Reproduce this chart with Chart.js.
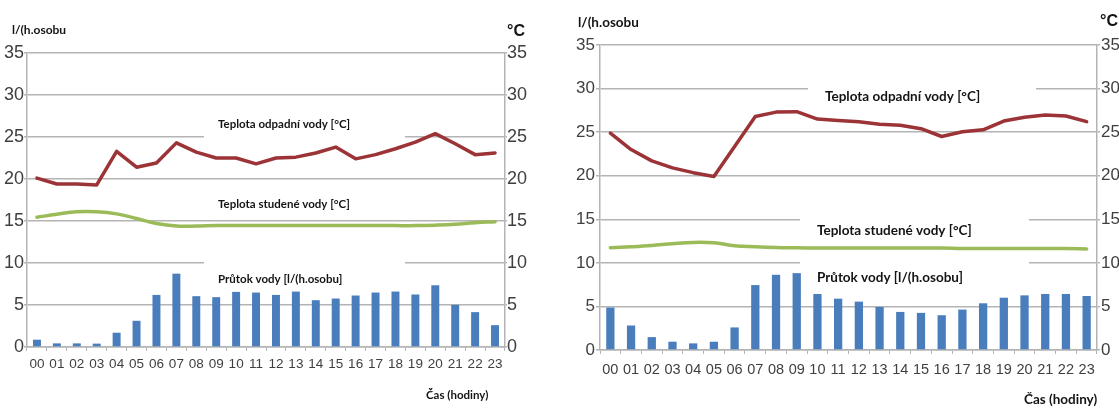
<!DOCTYPE html>
<html>
<head>
<meta charset="utf-8">
<script src="https://cdn.jsdelivr.net/npm/chart.js@4.4.1/dist/chart.umd.min.js"></script>
<style>
  html, body { margin: 0; padding: 0; background: #fff; width: 1119px; height: 414px; overflow: hidden; }
  .panel { position: absolute; top: 0; height: 414px; }
  #panelA { left: 0; width: 556px; }
  #panelB { left: 556px; width: 563px; }
</style>
</head>
<body>
<div class="panel" id="panelA"><canvas id="chartA" width="556" height="414"></canvas></div>
<div class="panel" id="panelB"><canvas id="chartB" width="563" height="414"></canvas></div>
<script>
// Hour of day
const hours = ['00','01','02','03','04','05','06','07','08','09','10','11',
               '12','13','14','15','16','17','18','19','20','21','22','23'];

// Left panel: flow [l/(h.person)], waste water and cold water temperature [°C]
const flowA  = [0.87, 0.43, 0.43, 0.40, 1.70, 3.12, 6.20, 8.73, 6.05, 5.93, 6.56, 6.48,
                6.20, 6.60, 5.57, 5.77, 6.13, 6.48, 6.60, 6.25, 7.35, 5.02, 4.15, 2.60];
const wasteA = [20.1, 19.4, 19.4, 19.3, 23.3, 21.4, 21.9, 24.3, 23.2, 22.5, 22.5, 21.8,
                22.5, 22.6, 23.1, 23.8, 22.4, 22.9, 23.6, 24.4, 25.4, 24.2, 22.9, 23.1];
const coldA  = [15.45, 15.8, 16.1, 16.1, 15.85, 15.3, 14.7, 14.4, 14.4, 14.45, 14.45, 14.45,
                14.45, 14.45, 14.45, 14.45, 14.45, 14.45, 14.45, 14.45, 14.5, 14.6, 14.8, 14.9];

// Right panel
const flowB  = [4.87, 2.81, 1.48, 0.95, 0.76, 0.95, 2.59, 7.45, 8.63, 8.82, 6.43, 5.89,
                5.55, 4.94, 4.37, 4.26, 3.99, 4.64, 5.36, 6.00, 6.27, 6.43, 6.43, 6.20];
const wasteB = [24.9, 23.0, 21.7, 20.9, 20.35, 19.9, 23.35, 26.8, 27.3, 27.35, 26.5, 26.35,
                26.2, 25.9, 25.8, 25.4, 24.5, 25.05, 25.27, 26.27, 26.7, 26.96, 26.85, 26.2];
const coldB  = [11.73, 11.85, 12.0, 12.2, 12.35, 12.3, 11.96, 11.85, 11.77, 11.73, 11.7, 11.7,
                11.7, 11.7, 11.7, 11.7, 11.7, 11.65, 11.65, 11.65, 11.65, 11.65, 11.65, 11.6];

// Shared axis range (both axes)
const axisMin = 0, axisMax = 35, axisStep = 5;

// Texts
const unitFlow   = 'l/(h.osobu';
const unitTemp   = '°C';
const timeTitle  = 'Čas (hodiny)';
const labelWaste = 'Teplota odpadní vody [°C]';
const labelCold  = 'Teplota studené vody [°C]';
const labelFlow  = 'Průtok vody [l/(h.osobu]';

const GRID = '#b4b4b4';
const TICK_TEXT = '#3f3f3f';
const BAR_BLUE = '#4a7dbb';
const WASTE_RED = '#9c3337';
const COLD_GREEN = '#9bbb59';
const LABEL_FONT = 'Lato, "Open Sans", sans-serif';
const TICK_FONT = '"Liberation Sans", Arial, sans-serif';

// Free texts and white label panels drawn under the data series
const panelText = {
  id: 'panelText',
  beforeDatasetsDraw(chart, args, opts) {
    const ctx = chart.ctx;
    ctx.save();
    ctx.fillStyle = '#ffffff';
    (opts.boxes || []).forEach(b => ctx.fillRect(b.x, b.y, b.w, b.h));
    (opts.texts || []).forEach(t => {
      ctx.font = (t.weight || 'bold') + ' ' + t.size + 'px ' + (t.family || LABEL_FONT);
      ctx.fillStyle = t.color || '#141414';
      ctx.textAlign = 'left';
      ctx.textBaseline = 'middle';
      ctx.fillText(t.text, t.x, t.y);
    });
    ctx.restore();
  }
};

function fixedSize(prop, value) {
  return function (scale) { scale[prop] = value; };
}

function buildChart(canvasId, series, lay) {
  return new Chart(document.getElementById(canvasId), {
    type: 'bar',
    data: {
      labels: hours,
      datasets: [
        { type: 'line', label: labelWaste, data: series.waste, yAxisID: 'yT',
          borderColor: WASTE_RED, borderWidth: 3.5, pointRadius: 0, tension: 0, order: 0,
          borderJoinStyle: 'round', borderCapStyle: 'round' },
        { type: 'line', label: labelCold, data: series.cold, yAxisID: 'yT',
          borderColor: COLD_GREEN, borderWidth: 3.5, pointRadius: 0, tension: 0.4, order: 0,
          borderCapStyle: 'round' },
        { type: 'bar', label: labelFlow, data: series.flow, yAxisID: 'yF',
          backgroundColor: BAR_BLUE, barPercentage: 0.4, categoryPercentage: 1, order: 1 }
      ]
    },
    options: {
      responsive: false,
      animation: false,
      devicePixelRatio: 1,
      layout: { padding: { top: lay.top, left: 0, right: 0, bottom: 0 } },
      plugins: {
        legend: { display: false },
        tooltip: { enabled: false },
        panelText: { boxes: lay.boxes, texts: lay.texts }
      },
      scales: {
        x: {
          afterFit: fixedSize('height', lay.xHeight),
          grid: { offset: true, drawOnChartArea: false, drawTicks: true, tickLength: 4, color: GRID },
          border: { display: true, color: GRID, width: 1.5 },
          ticks: { color: TICK_TEXT, padding: lay.xPad, maxRotation: 0, autoSkip: false,
                   font: { family: TICK_FONT, size: lay.xFont } }
        },
        yF: {
          position: 'left', min: axisMin, max: axisMax,
          afterFit: fixedSize('width', lay.leftW),
          grid: { color: GRID, lineWidth: 1.5, tickLength: lay.leftTick },
          border: { display: true, color: GRID, width: 1.5 },
          ticks: { stepSize: axisStep, color: TICK_TEXT, padding: lay.leftPad,
                   font: { family: TICK_FONT, size: lay.yFont } }
        },
        yT: {
          position: 'right', min: axisMin, max: axisMax,
          afterFit: fixedSize('width', lay.rightW),
          grid: { drawOnChartArea: false, color: GRID, lineWidth: 1.5, tickLength: lay.rightTick },
          border: { display: true, color: GRID, width: 1.5 },
          ticks: { stepSize: axisStep, color: TICK_TEXT, padding: lay.rightPad,
                   font: { family: TICK_FONT, size: lay.yFont } }
        }
      }
    },
    plugins: [panelText]
  });
}

// Left panel
buildChart('chartA', { flow: flowA, waste: wasteA, cold: coldA }, {
  top: 53, xHeight: 67, leftW: 27, rightW: 51,
  xFont: 13.5, xPad: 5, yFont: 18,
  leftTick: 3, leftPad: 0, rightTick: 2, rightPad: 0,
  boxes: [
    { x: 204, y: 114, w: 201, h: 27 },
    { x: 204, y: 194, w: 201, h: 20 },
    { x: 204, y: 255, w: 201, h: 35 }
  ],
  texts: [
    { text: labelWaste, x: 218, y: 124, size: 11.5 },
    { text: labelCold,  x: 218, y: 204, size: 11.5 },
    { text: labelFlow,  x: 218, y: 279, size: 11.5 },
    { text: unitFlow,   x: 12,  y: 30,  size: 12 },
    { text: unitTemp,   x: 507, y: 32,  size: 16, family: TICK_FONT },
    { text: timeTitle,  x: 426, y: 395, size: 11.5 }
  ]
});

// Right panel
buildChart('chartB', { flow: flowB, waste: wasteB, cold: coldB }, {
  top: 45, xHeight: 64, leftW: 44, rightW: 22,
  xFont: 14.5, xPad: 7, yFont: 17,
  leftTick: 4, leftPad: 1, rightTick: 3, rightPad: 1,
  boxes: [
    { x: 252, y: 82,  w: 228, h: 28 },
    { x: 244, y: 212, w: 229, h: 80 }
  ],
  texts: [
    { text: labelWaste, x: 269, y: 97,  size: 13.5 },
    { text: labelCold,  x: 261, y: 231, size: 13.5 },
    { text: labelFlow,  x: 261, y: 278, size: 13.5 },
    { text: unitFlow,   x: 22,  y: 23,  size: 13.5 },
    { text: unitTemp,   x: 544, y: 22,  size: 16, family: TICK_FONT },
    { text: timeTitle,  x: 468, y: 400, size: 13.5 }
  ]
});
</script>
</body>
</html>
